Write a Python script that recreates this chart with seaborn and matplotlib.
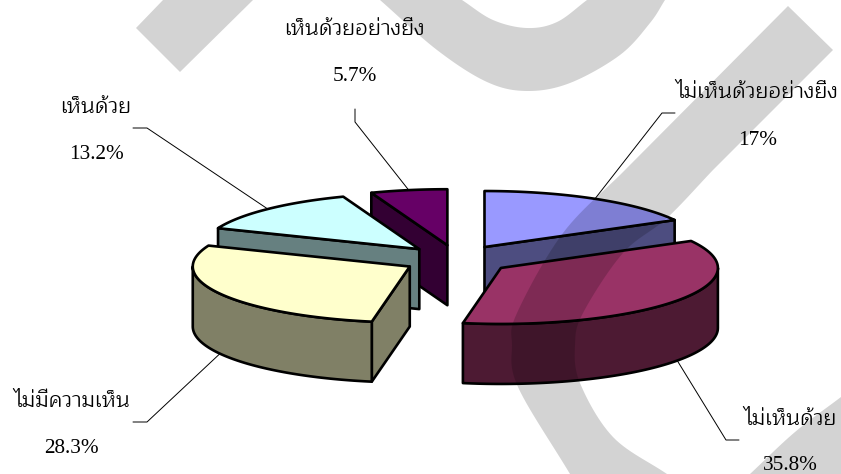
import numpy as np
import matplotlib
matplotlib.use("Agg")
import matplotlib.pyplot as plt
from matplotlib.path import Path
from matplotlib.patches import PathPatch, Polygon
import seaborn as sns

# Survey responses, clockwise from twelve o'clock
categories = ["ไม่เห็นด้วยอย่างยิ่ง", "ไม่เห็นด้วย", "ไม่มีความเห็น", "เห็นด้วย", "เห็นด้วยอย่างยิ่ง"]
shares = [17.0, 35.8, 28.3, 13.2, 5.7]
share_labels = ["17%", "35.8%", "28.3%", "13.2%", "5.7%"]

top_colors = sns.color_palette(["#9999FF", "#993366", "#FFFFCC", "#CCFFFF", "#660066"])
side_colors = sns.color_palette(["#4D4D80", "#4D1A33", "#808066", "#668080", "#330033"])

# Projection of the tilted pie, in pixels
CENTER = (457.0, 259.5)
RX, RY = 217.0, 56.0
DEPTH = 60.0
EXPLODE_X, EXPLODE_Y = 54.0, 14.5
EDGE = dict(edgecolor="black", linewidth=1.9, joinstyle="round")

# Leader elbows and label anchors (centre x, baseline y) for each slice
elbows = [[(662, 113), (675, 113)], [(726, 440), (739, 440)], [(147, 422), (133, 422)],
          [(147, 128), (133, 128)], [(355, 122), (355, 109)]]
name_xy = [(757, 98), (790, 425), (72, 407), (96, 113), (354, 35)]
share_xy = [(758, 145), (790, 470), (71, 453), (96, 159), (355, 81)]

NAME_FONT = dict(family="Maitree", fontweight="regular", fontsize=15.3, color="black", ha="center", va="baseline")
SHARE_FONT = dict(family="Liberation Serif", fontsize=15.3, color="black", ha="center", va="baseline")

sns.set_theme(style="white")
fig, ax = plt.subplots(figsize=(8.41, 4.74), dpi=100)
fig.subplots_adjust(0, 0, 1, 1)
ax.set_xlim(0, 841)
ax.set_ylim(474, 0)
ax.axis("off")

edges = np.cumsum([0.0] + shares) * 3.6


def apex_of(a0, a1):
    mid = np.radians((a0 + a1) / 2)
    return CENTER[0] + EXPLODE_X * np.sin(mid), CENTER[1] - EXPLODE_Y * np.cos(mid)


def rim(apex, deg):
    t = np.radians(deg)
    return apex[0] + RX * np.sin(t), apex[1] - RY * np.cos(t)


def face(points, color, z):
    ax.add_patch(Polygon(points, closed=True, facecolor=color, zorder=z, **EDGE))


def draw_slice(i, z):
    a0, a1 = edges[i], edges[i + 1]
    apex = apex_of(a0, a1)
    lowered = lambda p: (p[0], p[1] + DEPTH)
    # Cut faces that turn towards the viewer
    for deg, visible in ((a0, 180 < a0 < 360), (a1, 0 < a1 < 180)):
        if visible:
            r = rim(apex, deg)
            face([apex, r, lowered(r), lowered(apex)], side_colors[i], z)
    # Curved outer wall on the front half of the ellipse
    lo, hi = max(a0, 90.0), min(a1, 270.0)
    if lo < hi:
        arc = [rim(apex, d) for d in np.linspace(lo, hi, 80)]
        face(arc + [lowered(p) for p in arc[::-1]], side_colors[i], z + 0.1)
    # Top surface
    top = [apex] + [rim(apex, d) for d in np.linspace(a0, a1, 120)]
    face(top, top_colors[i], z + 0.2)
    return apex


paint_order = [4, 3, 2, 0, 1]
apexes = {}
for n, i in enumerate(paint_order):
    apexes[i] = draw_slice(i, 3 + n)

# Leader lines, from the rim at each slice's middle angle to its label
for i in range(len(shares)):
    mid = (edges[i] + edges[i + 1]) / 2
    x, y = rim(apexes[i], mid)
    if 90 < mid < 270:
        y += DEPTH
    xs, ys = zip((x, y), *elbows[i])
    ax.plot(xs, ys, color="black", lw=0.7, zorder=2, solid_joinstyle="miter")


# Grey overlay shapes that darken whatever sits beneath them
def smooth(points, n=14):
    """Catmull-Rom curve through the given outline points."""
    p = np.array(points, float)
    p = np.vstack([2 * p[0] - p[1], p, 2 * p[-1] - p[-2]])
    out = []
    for k in range(1, len(p) - 2):
        for t in np.linspace(0, 1, n, endpoint=False):
            out.append(0.5 * (2 * p[k] + (p[k + 1] - p[k - 1]) * t
                              + (2 * p[k - 1] - 5 * p[k] + 4 * p[k + 1] - p[k + 2]) * t ** 2
                              + (3 * p[k] - p[k - 1] - 3 * p[k + 1] + p[k + 2]) * t ** 3))
    out.append(p[-2])
    return out


bar = [(136, 28), (180, 72), (253, 0), (163, 0)]
crescent = (smooth([(380, 0), (437, 50), (487, 82), (527, 91), (570, 83), (620, 55), (650, 23), (665, 0)])
            + smooth([(587, 0), (557, 22), (527, 28), (493, 20), (462, 0)]))
stroke = ([(788, 6)]
          + smooth([(625, 170), (563, 233), (517, 313), (512, 345), (518, 387), (570, 474)])
          + smooth([(667, 474), (613, 437), (580, 383), (575, 345), (583, 313), (623, 253), (667, 218), (713, 170)])
          + [(833, 50)])
corner = smooth([(841, 397), (795, 432), (750, 474)]) + [(841, 474)]

for outline in (bar, crescent, stroke, corner):
    pts = np.array(list(outline) + [outline[0]])
    codes = [Path.MOVETO] + [Path.LINETO] * (len(pts) - 2) + [Path.CLOSEPOLY]
    ax.add_patch(PathPatch(Path(pts, codes), facecolor="black", alpha=0.173, edgecolor="none", zorder=20))

# Labels stay crisp above the overlay
for i in range(len(categories)):
    ax.text(*name_xy[i], categories[i], zorder=30, **NAME_FONT)
    ax.text(*share_xy[i], share_labels[i], zorder=30, **SHARE_FONT)

fig.savefig("out.png", dpi=100)
